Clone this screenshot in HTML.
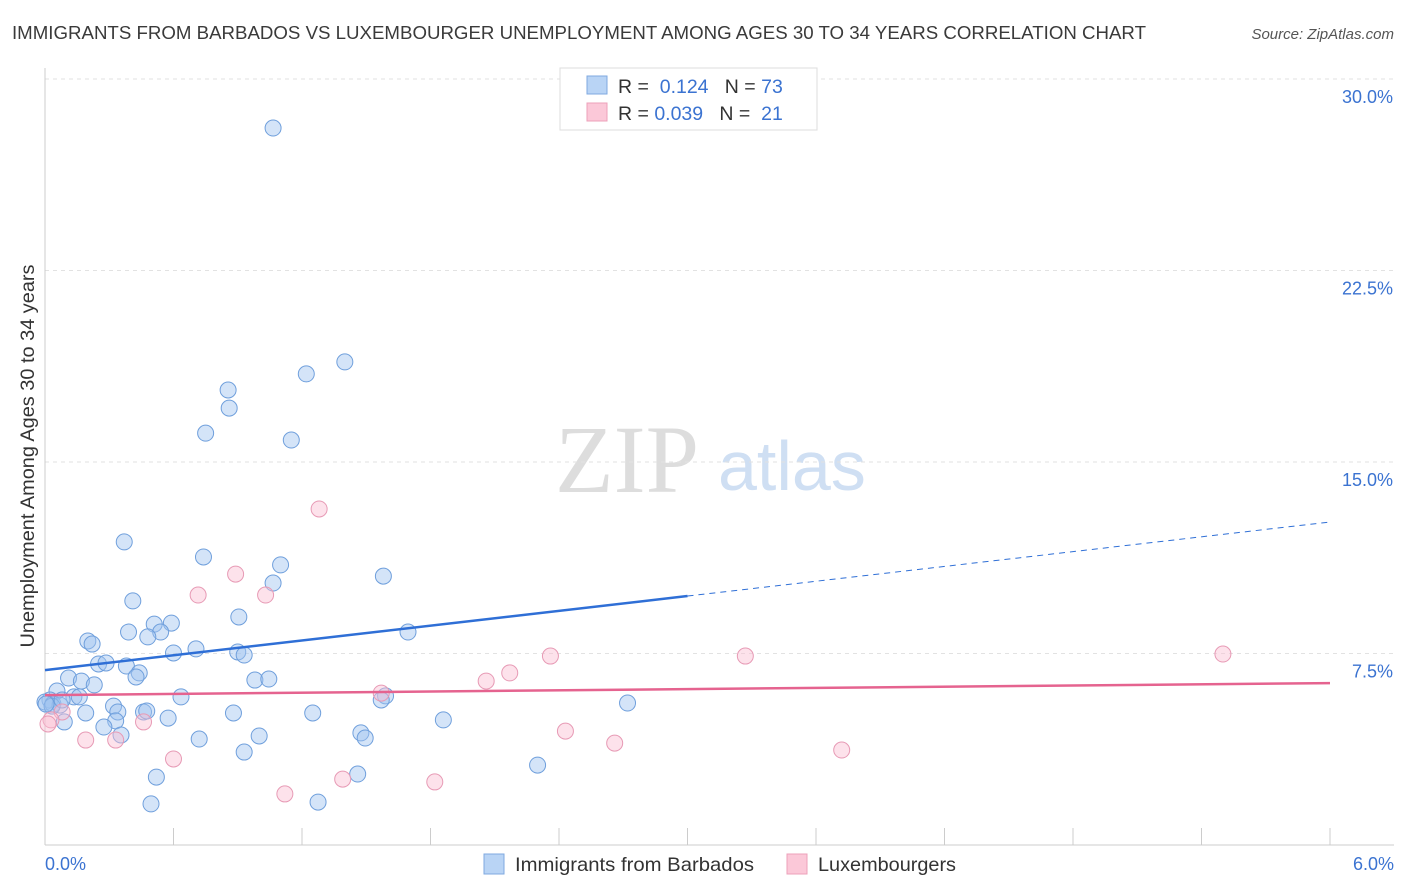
<!DOCTYPE html>
<html><head><meta charset="utf-8"><style>
body{margin:0;background:#fff;font-family:"Liberation Sans",sans-serif;}
svg{display:block}
</style></head><body>
<svg id="c" width="1406" height="892" xmlns="http://www.w3.org/2000/svg">
<text x="12" y="39" font-size="18.5" fill="#3a3a3a" textLength="1134" lengthAdjust="spacingAndGlyphs">IMMIGRANTS FROM BARBADOS VS LUXEMBOURGER UNEMPLOYMENT AMONG AGES 30 TO 34 YEARS CORRELATION CHART</text>
<text x="1394" y="39" font-size="15" font-style="italic" fill="#555" text-anchor="end">Source: ZipAtlas.com</text>
<text x="555" y="492" font-size="96" font-family="Liberation Serif" fill="#ddd">ZIP</text>
<text x="718" y="490" font-size="70" fill="#cfdff3">atlas</text>
<text transform="translate(34,456) rotate(-90)" font-size="19.7" fill="#333" text-anchor="middle" textLength="383" lengthAdjust="spacingAndGlyphs">Unemployment Among Ages 30 to 34 years</text>
<g id="grid"></g><g id="pts"></g><g id="lines"></g>
<g>
<rect x="560" y="68" width="257" height="62" fill="#fff" stroke="#ddd"/>
<rect x="587" y="76" width="20" height="18" fill="#b9d4f5" stroke="#7fa9e0"/>
<rect x="587" y="103" width="20" height="18" fill="#fbc8d8" stroke="#eda0ba"/>
<text x="618" y="93" font-size="19.5" fill="#333">R = <tspan fill="#3b73d1">&#160;0.124</tspan>&#160;&#160;&#160;N = <tspan fill="#3b73d1">73</tspan></text>
<text x="618" y="120" font-size="19.5" fill="#333">R = <tspan fill="#3b73d1">0.039</tspan>&#160;&#160;&#160;N = <tspan fill="#3b73d1">&#160;21</tspan></text>
</g>
<g>
<rect x="484" y="854" width="20" height="20" fill="#b9d4f5" stroke="#7fa9e0"/>
<text x="515" y="871" font-size="19.5" fill="#333" textLength="239" lengthAdjust="spacingAndGlyphs">Immigrants from Barbados</text>
<rect x="787" y="854" width="20" height="20" fill="#fbc8d8" stroke="#eda0ba"/>
<text x="818" y="871" font-size="19.5" fill="#333" textLength="138" lengthAdjust="spacingAndGlyphs">Luxembourgers</text>
</g>
</svg>
<script>
const xTicks=[0,0.6,1.2,1.8,2.4,3.0,3.6,4.2,4.8,5.4,6.0];
const yTicks=[7.5,15,22.5,30];
const yTickLabels=["7.5%","15.0%","22.5%","30.0%"];
const xEndLabels=["0.0%","6.0%"];
const blueX=[1.065,1.40,1.22,0.855,0.86,0.75,1.15,0.37,0.74,1.10,1.58,1.065,0.41,0.905,0.59,0.51,0.54,0.39,0.48,1.695,0.20,0.22,0.705,0.60,0.90,0.93,0.25,0.285,0.38,0.44,0.425,0.11,0.17,0.23,0.98,1.045,0.056,0.635,0.135,0.16,0.023,0,0.037,1.59,1.57,2.72,0.07,0.32,0.34,0.46,0.475,0.19,0.88,1.25,0.575,0.09,0.33,1.86,0.275,0.355,1.475,1.495,0.72,1.0,0.93,2.30,1.46,0.52,0.495,1.275,0.033,0.005,0.08];
const blueY=[28.08,18.92,18.45,17.82,17.11,16.13,15.86,11.87,11.28,10.97,10.53,10.26,9.56,8.93,8.69,8.65,8.34,8.34,8.15,8.34,7.99,7.87,7.68,7.52,7.56,7.44,7.09,7.13,7.01,6.74,6.58,6.54,6.42,6.27,6.46,6.50,6.03,5.80,5.80,5.80,5.68,5.60,5.52,5.84,5.68,5.56,5.48,5.44,5.21,5.21,5.25,5.17,5.17,5.17,4.97,4.82,4.86,4.90,4.62,4.31,4.39,4.19,4.15,4.27,3.64,3.13,2.78,2.66,1.61,1.68,5.44,5.52,5.68];
const pinkX=[1.28,0.89,0.715,1.03,2.36,3.27,5.50,2.17,2.06,1.57,0.08,0.46,0.028,0.014,2.43,0.19,0.33,2.66,3.72,0.60,1.12,1.39,1.82];
const pinkY=[13.16,10.61,9.79,9.79,7.40,7.40,7.48,6.74,6.42,5.95,5.21,4.82,4.90,4.74,4.46,4.11,4.11,3.99,3.72,3.37,2.00,2.58,2.47];
const blueTrend=[6.85,12.65]; // y at x=0 and x=6
const blueSolidEnd=3.0;
const pinkTrend=[5.87,6.34];
const X=v=>45+v/6*1285, Y=v=>845-v/7.5*191.5;
const NS="http://www.w3.org/2000/svg";
function mk(tag,attrs,parent){const e=document.createElementNS(NS,tag);for(const k in attrs)e.setAttribute(k,attrs[k]);parent.appendChild(e);return e;}
const g=document.getElementById('grid');
yTicks.forEach((t,i)=>{
 let l=mk('line',{x1:45,x2:1394,y1:Y(t),y2:Y(t),stroke:'#e2e2e2','stroke-dasharray':'4,4'},g);
 
 
 let tx=mk('text',{x:1393,y:Y(t)+24,'font-size':18,fill:'#3b73d1','text-anchor':'end'},g);tx.textContent=yTickLabels[i];
 
 
});
let ax=mk('line',{x1:45,x2:1394,y1:845,y2:845,stroke:'#ccc'},g);


let ay=mk('line',{x1:45,x2:45,y1:68,y2:845,stroke:'#ccc'},g);


xTicks.forEach(t=>{let l=mk('line',{x1:X(t),x2:X(t),y1:828,y2:845,stroke:'#ccc'},g);
 
 });
[[0,'start',45],[6,'end',1394]].forEach((d,i)=>{let tx=mk('text',{x:d[2],y:870,'font-size':18,fill:'#3b73d1','text-anchor':d[1]},g);tx.textContent=xEndLabels[i];
 
 });
const p=document.getElementById('pts');
blueX.forEach((x,i)=>{let c=mk('circle',{cx:X(x),cy:Y(blueY[i]),r:8,fill:'rgba(160,196,240,0.45)',stroke:'#6f9fdc','stroke-width':1},p);
 
 });
pinkX.forEach((x,i)=>{let c=mk('circle',{cx:X(x),cy:Y(pinkY[i]),r:8,fill:'rgba(250,190,210,0.45)',stroke:'#e79ab5','stroke-width':1},p);
 
 });
const L=document.getElementById('lines');
const by=x=>blueTrend[0]+(blueTrend[1]-blueTrend[0])*x/6;
let b1=mk('line',{x1:X(0),y1:Y(by(0)),x2:X(blueSolidEnd),y2:Y(by(blueSolidEnd)),stroke:'#2f6fd6','stroke-width':2.5},L);


let b2=mk('line',{x1:X(blueSolidEnd),y1:Y(by(blueSolidEnd)),x2:X(6),y2:Y(by(6)),stroke:'#2f6fd6','stroke-width':1,'stroke-dasharray':'6,5'},L);


let pl=mk('line',{x1:X(0),y1:Y(pinkTrend[0]),x2:X(6),y2:Y(pinkTrend[1]),stroke:'#e5638f','stroke-width':2.5},L);


</script>
</body></html>
